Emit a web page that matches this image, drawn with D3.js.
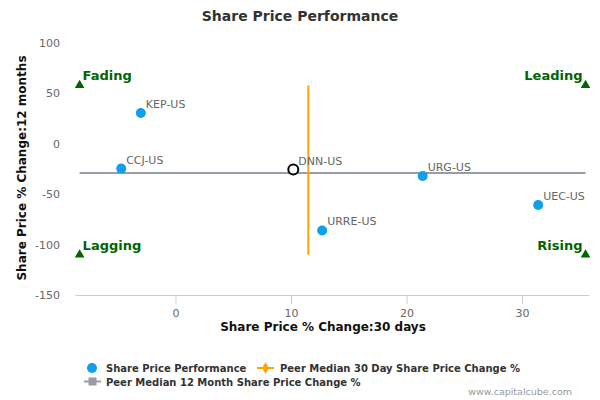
<!DOCTYPE html>
<html lang="en">
  <head>
    <meta charset="UTF-8" />
    <title>Share Price Performance</title>
    <script src="https://d3js.org/d3.v7.min.js"></script>
    <style>
      body {
        margin: 0;
        background: #fff;
      }
      svg text {
        font-family: 'DejaVu Sans', sans-serif;
      }
    </style>
  </head>
  <body>
    <div id="chart"></div>
    <script>
      // tickers and their 30 day / 12 month share price change (%)
      const tickers = ['KEP-US', 'CCJ-US', 'DNN-US', 'URG-US', 'UEC-US', 'URRE-US'];
      const change30d = [-3.0, -4.7, 10.2, 21.4, 31.4, 12.7];
      const change12m = [30.5, -24.6, -25.6, -32, -60.7, -86];
      const highlighted = 'DNN-US';

      // peer medians
      const median30d = 11.5;
      const median12m = -29;

      // quadrant corners
      const quadrantNames = ['Fading', 'Leading', 'Lagging', 'Rising'];
      const quadrantX = [-8.3, 35.5, -8.3, 35.5];
      const quadrantY = [58, 58, -110, -110];

      const xTicks = [0, 10, 20, 30];
      const yTicks = [100, 50, 0, -50, -100, -150];

      const width = 600;
      const height = 400;
      const plot = { left: 75, right: 589, top: 43, bottom: 295 };

      const svg = d3
        .select('#chart')
        .append('svg')
        .attr('width', width)
        .attr('height', height);

      const x = d3.scaleLinear().domain([-8.7, 35.8]).range([plot.left, plot.right]);
      const y = d3.scaleLinear().domain([-150, 100]).range([plot.bottom, plot.top]);

      // title
      svg
        .append('text')
        .attr('x', 300)
        .attr('y', 21)
        .attr('text-anchor', 'middle')
        .style('font-size', '14px')
        .style('font-weight', 'bold')
        .style('fill', '#333')
        .text('Share Price Performance');

      // x axis
      const xAxis = svg
        .append('g')
        .attr('transform', `translate(0,${plot.bottom})`)
        .call(
          d3
            .axisBottom(x)
            .tickValues(xTicks)
            .tickFormat((d) => String(d))
            .tickSize(9)
            .tickPadding(5)
            .tickSizeOuter(0)
        );
      xAxis.select('.domain').attr('stroke', '#C0D0E0');
      xAxis.selectAll('.tick line').attr('stroke', '#C0D0E0');
      xAxis
        .selectAll('.tick text')
        .style('font-size', '11px')
        .style('fill', '#666')
        .style('font-family', "'DejaVu Sans', sans-serif");

      // y axis (labels only)
      const yAxis = svg
        .append('g')
        .attr('transform', `translate(${plot.left - 15},0)`)
        .call(
          d3
            .axisLeft(y)
            .tickValues(yTicks)
            .tickFormat((d) => String(d))
            .tickSize(0)
            .tickPadding(0)
        );
      yAxis.select('.domain').remove();
      yAxis
        .selectAll('.tick text')
        .style('font-size', '11px')
        .style('fill', '#666')
        .style('font-family', "'DejaVu Sans', sans-serif");

      // axis titles
      svg
        .append('text')
        .attr('x', 323)
        .attr('y', 331)
        .attr('text-anchor', 'middle')
        .style('font-size', '12px')
        .style('font-weight', 'bold')
        .style('fill', '#111')
        .text('Share Price % Change:30 days');

      svg
        .append('text')
        .attr('transform', `translate(26,168) rotate(-90)`)
        .attr('text-anchor', 'middle')
        .style('font-size', '12px')
        .style('font-weight', 'bold')
        .style('fill', '#111')
        .text('Share Price % Change:12 months');

      // peer median lines
      svg
        .append('line')
        .attr('x1', x(d3.min(quadrantX)))
        .attr('x2', x(d3.max(quadrantX)))
        .attr('y1', y(median12m))
        .attr('y2', y(median12m))
        .attr('stroke', '#989ca6')
        .attr('stroke-width', 2);

      svg
        .append('line')
        .attr('x1', x(median30d))
        .attr('x2', x(median30d))
        .attr('y1', y(d3.max(quadrantY)))
        .attr('y2', y(d3.min(quadrantY)))
        .attr('stroke', '#FFA500')
        .attr('stroke-width', 2);

      // quadrant markers
      const tri = d3.symbol().type(d3.symbolTriangle).size(40);
      quadrantNames.forEach((name, i) => {
        const px = x(quadrantX[i]);
        const py = y(quadrantY[i]);
        svg
          .append('path')
          .attr('d', tri)
          .attr('transform', `translate(${px},${py})`)
          .attr('fill', '#006400');
        const left = quadrantX[i] < 0;
        svg
          .append('text')
          .attr('x', left ? px + 3 : px - 3)
          .attr('y', py - 5)
          .attr('text-anchor', left ? 'start' : 'end')
          .style('font-size', '13px')
          .style('font-weight', 'bold')
          .style('fill', '#006400')
          .text(name);
      });

      // points
      tickers.forEach((t, i) => {
        const px = x(change30d[i]);
        const py = y(change12m[i]);
        if (t === highlighted) {
          svg
            .append('circle')
            .attr('cx', px)
            .attr('cy', py)
            .attr('r', 5)
            .attr('fill', '#fff')
            .attr('stroke', '#000')
            .attr('stroke-width', 2);
        } else {
          svg
            .append('circle')
            .attr('cx', px)
            .attr('cy', py)
            .attr('r', 5)
            .attr('fill', '#109FEB');
        }
        svg
          .append('text')
          .attr('x', px + 5)
          .attr('y', py - 5)
          .style('font-size', '11px')
          .style('fill', '#666')
          .text(t);
      });

      // legend
      const legend = svg.append('g').style('font-size', '10px').style('font-weight', 'bold');
      legend.append('circle').attr('cx', 92).attr('cy', 368).attr('r', 5).attr('fill', '#109FEB');
      legend
        .append('text')
        .attr('x', 106)
        .attr('y', 372)
        .style('fill', '#333')
        .text('Share Price Performance');

      legend
        .append('line')
        .attr('x1', 257)
        .attr('x2', 274)
        .attr('y1', 368)
        .attr('y2', 368)
        .attr('stroke', '#FFA500')
        .attr('stroke-width', 2);
      legend
        .append('path')
        .attr('d', d3.symbol().type(d3.symbolDiamond).size(40))
        .attr('transform', 'translate(265.5,368)')
        .attr('fill', '#FFA500');
      legend
        .append('text')
        .attr('x', 280)
        .attr('y', 372)
        .style('fill', '#333')
        .text('Peer Median 30 Day Share Price Change %');

      legend
        .append('line')
        .attr('x1', 84)
        .attr('x2', 101)
        .attr('y1', 381.5)
        .attr('y2', 381.5)
        .attr('stroke', '#989ca6')
        .attr('stroke-width', 2);
      legend
        .append('rect')
        .attr('x', 88.5)
        .attr('y', 377.5)
        .attr('width', 8)
        .attr('height', 8)
        .attr('fill', '#989ca6');
      legend
        .append('text')
        .attr('x', 106)
        .attr('y', 385.5)
        .style('fill', '#333')
        .text('Peer Median 12 Month Share Price Change %');

      // credit
      svg
        .append('text')
        .attr('x', 572)
        .attr('y', 395)
        .attr('text-anchor', 'end')
        .style('font-size', '9.5px')
        .style('fill', '#999')
        .text('www.capitalcube.com');
    </script>
  </body>
</html>
